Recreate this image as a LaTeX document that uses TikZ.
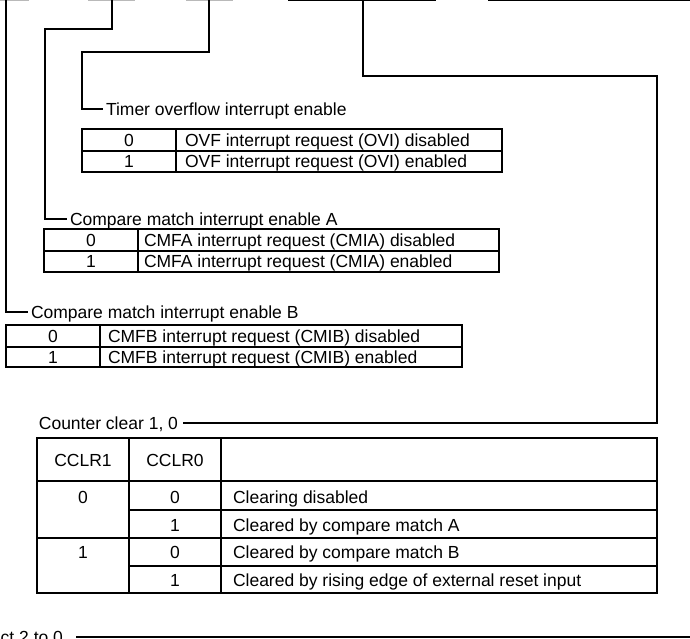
\documentclass[tikz,border=0pt]{standalone}
\usepackage{fontspec}
\setmainfont{Liberation Sans}
\usetikzlibrary{positioning}
\usetikzlibrary{calc}

\begin{document}
\begin{tikzpicture}[x=1pt, y=-1pt, line width=1.1pt,
    font=\fontsize{17.5}{20}\selectfont,
    txt/.style={inner xsep=0pt, inner ysep=0pt, outer sep=0pt, text height=12.5pt, text depth=0pt},
    lbl/.style={txt, inner xsep=3pt},
    ent/.style={txt, anchor=west}]
    \useasboundingbox (0,0) rectangle (690,638);
    \clip (0,0) rectangle (690,638);

    % Bit boxes (lower edges)
    \draw[gray!55] (0,0.6) -- (29,0.6);
    \draw[gray!55] (88,0.6) -- (135,0.6);
    \draw[gray!55] (186,0.6) -- (233,0.6);
    \draw[line width=1.4pt] (288,0.6) -- (436,0.6);
    \draw[line width=1.4pt] (488,0.6) -- (690,0.6);

    \coordinate (cmieb) at (6,0);
    \coordinate (cmiea) at (112,0);
    \coordinate (ovie) at (209,0);
    \coordinate (cclr) at (363,0);

    \coordinate (ka) at (45,29);
    \coordinate (ko) at (82,52);
    \coordinate (kc1) at (657,76);
    \coordinate (kc2) at (657,423);
    \coordinate (cks) at (690,637);

    % Labels
    \node[lbl, anchor=west] (ovie-l) at (103,109) {Timer overflow interrupt enable};
    \node[lbl, anchor=west] (cmiea-l) at (67,219) {Compare match interrupt enable A};
    \node[lbl, anchor=west] (cmieb-l) at (28,312) {Compare match interrupt enable B};
    \node[lbl, anchor=east, inner xsep=5pt] (cclr-l) at (183,423) {Counter clear 1, 0};
    \node[lbl, anchor=east, inner xsep=13pt] (cks-l) at (76,637) {Clock select 2 to 0};

    \draw (ovie) |- (ko) |- (ovie-l.west);
    \draw (cmiea) |- (ka) |- (cmiea-l.west);
    \draw (cmieb) |- (cmieb-l.west);
    \draw (cclr) |- (kc1) -- (kc2) -- (cclr-l.east);
    \draw (cks-l.east) -- (cks);

    % Timer overflow table
    \draw (82,129) rectangle (502,172);
    \draw (82,151) -- (502,151);
    \draw (176,129) -- (176,172);
    \node[txt] (ovie-0) at (129,140) {0};
    \node[txt] (ovie-1) at (129,161.5) {1};
    \node[ent] (ovie-d0) at (185,140) {OVF interrupt request (OVI) disabled};
    \node[ent] (ovie-d1) at (185,161.5) {OVF interrupt request (OVI) enabled};

    % Compare match A table
    \draw (44,229) rectangle (499,272);
    \draw (44,251) -- (499,251);
    \draw (138,229) -- (138,272);
    \node[txt] (cmiea-0) at (91,240) {0};
    \node[txt] (cmiea-1) at (91,261.5) {1};
    \node[ent] (cmiea-d0) at (144,240) {CMFA interrupt request (CMIA) disabled};
    \node[ent] (cmiea-d1) at (144,261.5) {CMFA interrupt request (CMIA) enabled};

    % Compare match B table
    \draw (6,325) rectangle (462,367);
    \draw (6,347) -- (462,347);
    \draw (100,325) -- (100,367);
    \node[txt] (cmieb-0) at (53,336) {0};
    \node[txt] (cmieb-1) at (53,357) {1};
    \node[ent] (cmieb-d0) at (108,336) {CMFB interrupt request (CMIB) disabled};
    \node[ent] (cmieb-d1) at (108,357) {CMFB interrupt request (CMIB) enabled};

    % Counter clear table
    \draw (37,438) rectangle (657,593);
    \draw (37,481) -- (657,481);
    \draw (37,538) -- (657,538);
    \draw (129,510) -- (657,510);
    \draw (129,566) -- (657,566);
    \draw (129,438) -- (129,593);
    \draw (221,438) -- (221,593);
    \node[txt] (cclr-h1) at (83,460) {CCLR1};
    \node[txt] (cclr-h0) at (175,460) {CCLR0};
    \node[txt] (cclr-a0) at (83,497) {0};
    \node[txt] (cclr-a1) at (83,552) {1};
    \node[txt] (cclr-b0) at (175,497) {0};
    \node[txt] (cclr-b1) at (175,525) {1};
    \node[txt] (cclr-b2) at (175,552) {0};
    \node[txt] (cclr-b3) at (175,580) {1};
    \node[ent] (cclr-d0) at (233,497) {Clearing disabled};
    \node[ent] (cclr-d1) at (233,525) {Cleared by compare match A};
    \node[ent] (cclr-d2) at (233,552) {Cleared by compare match B};
    \node[ent] (cclr-d3) at (233,580) {Cleared by rising edge of external reset input};
\end{tikzpicture}
\end{document}
